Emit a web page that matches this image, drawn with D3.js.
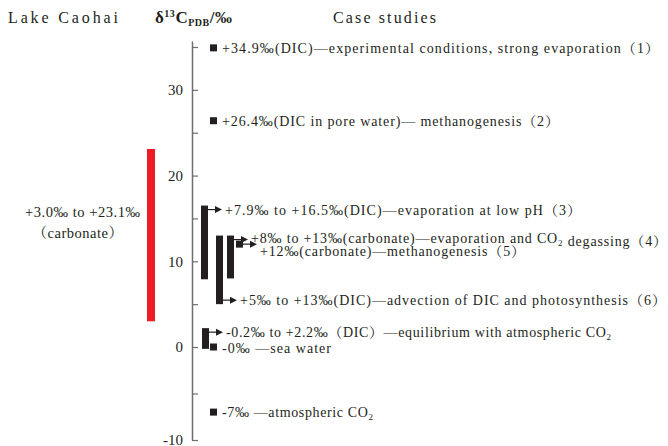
<!DOCTYPE html>
<html>
<head>
<meta charset="utf-8">
<script src="https://cdn.jsdelivr.net/npm/d3@7"></script>
<style>
  body { margin: 0; background: #fff; }
  text { font-family: "Liberation Serif", "Times New Roman", "Noto Serif CJK SC", "Noto Sans CJK SC", serif; fill: #231f20; }
</style>
</head>
<body>
<svg id="chart" width="668" height="446"></svg>
<script>
// ---- data ----
const tickValues = [-10, -5, 0, 5, 10, 15, 20, 25, 30, 35];
const tickLabels = ["-10", "", "0", "", "10", "", "20", "", "30", ""];

const lakeRange = [3.0, 23.1];
const lakeLabel = ["+3.0‰ to +23.1‰", "（carbonate）"];

const caseLow  = [34.9, 26.4, 7.9, 8, 12, 5, -0.2, 0, -7];
const caseHigh = [34.9, 26.4, 16.5, 13, 12, 13, 2.2, 0, -7];
const caseText = [
  "+34.9‰(DIC)—experimental conditions, strong evaporation（1）",
  "+26.4‰(DIC in pore water)— methanogenesis（2）",
  "+7.9‰ to +16.5‰(DIC)—evaporation at low pH（3）",
  "+8‰ to +13‰(carbonate)—evaporation and CO₂ degassing（4）",
  "+12‰(carbonate)—methanogenesis（5）",
  "+5‰ to +13‰(DIC)—advection of DIC and photosynthesis（6）",
  "-0.2‰ to +2.2‰（DIC）—equilibrium with atmospheric CO₂",
  "-0‰ —sea water",
  "-7‰ —atmospheric CO₂"
];

// ---- layout ----
const axisX = 192;
// x offset of each mark from the axis, which end carries the arrow,
// extra vertical shift of the label and the advance width each label spans to
const markOffset = [18, 18, 9, 35, 44, 24, 10, 18, 18];
const arrowAt    = ["none", "none", "top", "top", "mid", "bottom", "top", "none", "none"];
const labelDy    = [0, 0, 0, -2, 7, 0, 0, 1, 0];
const labelEnd   = [659, 559, 581, 667, 525, 666, 611, 331, 373];
const barW = 7, pointSize = 7, arrowLen = 14;

const svg = d3.select("#chart");

const y = d3.scaleLinear()
  .domain([-10, 0, 35.7])
  .range([440, 347, 41]);

// headers
svg.append("text").attr("x", 8).attr("y", 23)
  .attr("textLength", 110).attr("lengthAdjust", "spacing")
  .style("font-size", "16px")
  .text("Lake Caohai");

const hdr = svg.append("text").attr("x", 155).attr("y", 23)
  .attr("textLength", 77).attr("lengthAdjust", "spacing")
  .style("font-size", "17px").style("font-weight", "bold");
hdr.append("tspan").text("δ");
hdr.append("tspan").attr("dy", -6).style("font-size", "10px").text("13");
hdr.append("tspan").attr("dy", 6).text("C");
hdr.append("tspan").attr("dy", 3).style("font-size", "10px").text("PDB");
hdr.append("tspan").attr("dy", -3).text("/‰");

svg.append("text").attr("x", 333).attr("y", 23)
  .attr("textLength", 103).attr("lengthAdjust", "spacing")
  .style("font-size", "16px")
  .text("Case studies");

// axis with inward ticks
const axis = d3.axisLeft(y)
  .tickValues(tickValues)
  .tickFormat((d, i) => tickLabels[i])
  .tickSizeInner(-6)
  .tickSizeOuter(0)
  .tickPadding(9);

const gAxis = svg.append("g").attr("transform", `translate(${axisX},0)`).call(axis);
gAxis.select(".domain").attr("stroke", "#6d6e71").attr("stroke-width", 1.5);
gAxis.selectAll(".tick line").attr("stroke", "#6d6e71").attr("stroke-width", 1.2);
gAxis.selectAll(".tick text")
  .style("font-family", "'Liberation Serif', serif")
  .style("font-size", "15px").attr("fill", "#231f20");

// lake range bar
svg.append("rect")
  .attr("x", 147).attr("width", 8)
  .attr("y", y(lakeRange[1]))
  .attr("height", y(lakeRange[0]) - y(lakeRange[1]))
  .attr("fill", "#ed1c24");

svg.append("text").attr("x", 25).attr("y", 217)
  .attr("textLength", 115).attr("lengthAdjust", "spacing")
  .style("font-size", "14.5px").text(lakeLabel[0]);
svg.append("text").attr("x", 78).attr("y", 238).attr("text-anchor", "middle")
  .style("font-size", "14.5px").style("letter-spacing", "0.5px").text(lakeLabel[1]);

// helper: write a label, lowering the "2" of CO₂ as subscript
function writeLabel(sel, str) {
  const parts = str.split("₂");
  parts.forEach((p, i) => {
    if (p) sel.append("tspan").text(p);
    if (i < parts.length - 1) {
      sel.append("tspan").attr("dy", 3).style("font-size", "9px").text("2");
      if (parts[i + 1]) sel.append("tspan").attr("dy", -3).text("");
    }
  });
}

const marks = svg.append("g");
caseText.forEach((label, i) => {
  const lo = caseLow[i], hi = caseHigh[i];
  const x0 = axisX + markOffset[i];
  const isPoint = lo === hi;
  let right;
  if (isPoint) {
    marks.append("rect")
      .attr("x", x0).attr("y", y(lo) - pointSize / 2)
      .attr("width", pointSize).attr("height", pointSize)
      .attr("fill", "#231f20");
    right = x0 + pointSize;
  } else {
    marks.append("rect")
      .attr("x", x0).attr("y", y(hi))
      .attr("width", barW).attr("height", y(lo) - y(hi))
      .attr("fill", "#231f20");
    right = x0 + barW;
  }
  let ay;
  if (arrowAt[i] === "top") ay = y(hi) + 4;
  else if (arrowAt[i] === "bottom") ay = y(lo) - 4;
  else ay = y((lo + hi) / 2);

  let tx = right + 5;
  if (arrowAt[i] !== "none") {
    const end = right + arrowLen;
    marks.append("line")
      .attr("x1", right).attr("x2", end - 6)
      .attr("y1", ay).attr("y2", ay)
      .attr("stroke", "#231f20").attr("stroke-width", 1.2);
    marks.append("path")
      .attr("d", `M${end - 7},${ay - 3.5}L${end},${ay}L${end - 7},${ay + 3.5}Z`)
      .attr("fill", "#231f20");
    tx = end + 3;
  }
  const t = marks.append("text")
    .attr("x", tx).attr("y", ay + 5 + labelDy[i])
    .attr("textLength", labelEnd[i] - tx).attr("lengthAdjust", "spacing")
    .style("font-size", "14px");
  writeLabel(t, label);
});
</script>
</body>
</html>
